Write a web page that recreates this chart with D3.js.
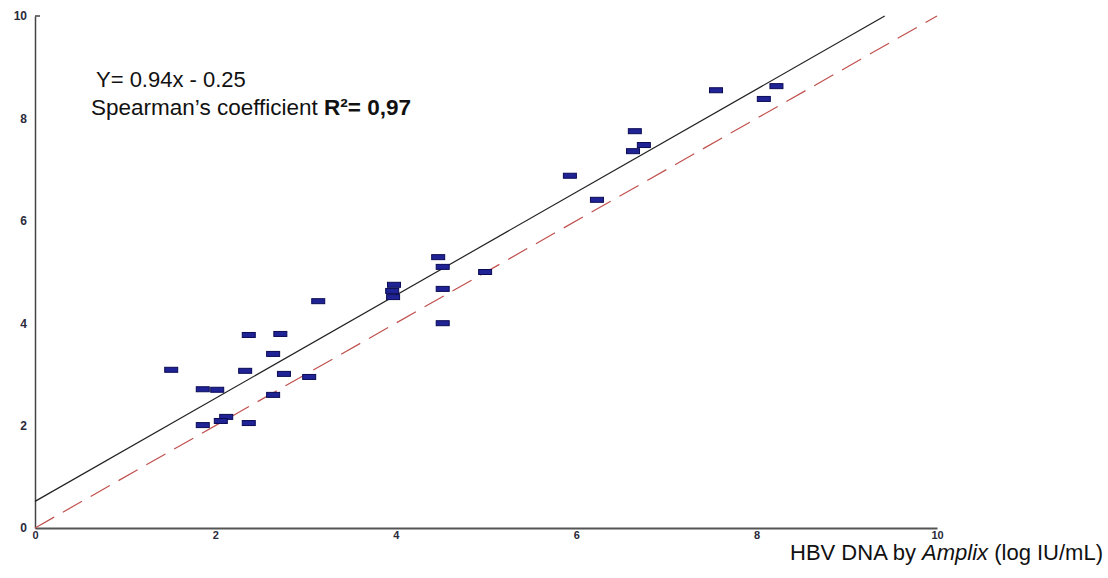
<!DOCTYPE html>
<html>
<head>
<meta charset="utf-8">
<script src="https://cdn.jsdelivr.net/npm/d3@7"></script>
<style>
  body { margin: 0; background: #fff; }
  svg { display: block; font-family: Arial, "Liberation Sans", sans-serif; }
</style>
</head>
<body>
<div id="chart"></div>
<script>
// data (x = Amplix, y = comparator, log IU/mL)
var xValues = [1.51, 2.37, 2.72, 2.64, 2.33, 2.76, 3.04, 1.86, 2.02, 2.64,
               1.86, 2.12, 2.06, 2.37, 3.14, 3.98, 3.96, 3.97, 4.47, 4.52,
               4.52, 4.52, 4.99, 5.93, 6.23, 6.65, 6.63, 6.75, 7.55, 8.08, 8.22];
var yValues = [3.09, 3.77, 3.79, 3.40, 3.07, 3.01, 2.95, 2.71, 2.70, 2.60,
               2.01, 2.17, 2.09, 2.05, 4.43, 4.75, 4.63, 4.51, 5.29, 5.10,
               4.67, 4.00, 5.00, 6.88, 6.41, 7.75, 7.36, 7.48, 8.55, 8.38, 8.63];
var xTicks = [0, 2, 4, 6, 8, 10];
var yTicks = [0, 2, 4, 6, 8, 10];
// regression line as drawn and the identity line
var fitLine = [[0, 0.52], [9.42, 10]];
var identityLine = [[0, 0], [10, 10]];

var chart_width  = 1108;
var chart_height = 578;

var x = d3.scaleLinear().domain([0, 10]).range([35, 937]);
var y = d3.scaleLinear().domain([0, 10]).range([528, 16]);

var svg = d3.select("#chart")
    .append("svg")
    .attr("width", chart_width)
    .attr("height", chart_height);

// axes
var xAxis = svg.append("g")
    .attr("transform", "translate(0," + y(0) + ")")
    .call(d3.axisBottom(x).tickValues(xTicks).tickSize(0).tickPadding(3));
xAxis.select(".domain").attr("stroke", "#555").attr("stroke-width", 2);
xAxis.selectAll("text")
    .attr("font-size", 11).attr("font-weight", "bold").attr("fill", "#2a2a3a");

var yAxis = svg.append("g")
    .attr("transform", "translate(" + x(0) + ",0)")
    .call(d3.axisLeft(y).tickValues(yTicks).tickSize(0).tickPadding(8));
yAxis.select(".domain").attr("stroke", "#444").attr("stroke-width", 1.5);
yAxis.selectAll("text")
    .attr("font-size", 12).attr("font-weight", "bold").attr("fill", "#2a2a3a");

// small bracket at top of y axis
svg.append("line")
    .attr("x1", x(0)).attr("x2", x(0) + 5)
    .attr("y1", y(10)).attr("y2", y(10))
    .attr("stroke", "#444").attr("stroke-width", 1.5);

var line = d3.line()
    .x(function(d) { return x(d[0]); })
    .y(function(d) { return y(d[1]); });

svg.append("path")
    .datum(identityLine)
    .attr("d", line)
    .attr("fill", "none")
    .attr("stroke", "#c0504d")
    .attr("stroke-width", 1.2)
    .attr("stroke-dasharray", "22,10");

svg.append("path")
    .datum(fitLine)
    .attr("d", line)
    .attr("fill", "none")
    .attr("stroke", "#222")
    .attr("stroke-width", 1.2);

// points as small bars
var points = d3.zip(xValues, yValues);
svg.selectAll("rect.pt")
    .data(points)
    .enter()
    .append("rect")
    .attr("class", "pt")
    .attr("x", function(d) { return x(d[0]) - 6.5; })
    .attr("y", function(d) { return y(d[1]) - 2.5; })
    .attr("width", 13)
    .attr("height", 5)
    .attr("fill", "#1f2396")
    .attr("stroke", "#0b0b55")
    .attr("stroke-width", 1);

// annotation
svg.append("text")
    .attr("x", 96).attr("y", 87)
    .attr("font-size", 22).attr("fill", "#111")
    .text("Y= 0.94x - 0.25");

var t2 = svg.append("text")
    .attr("x", 91).attr("y", 115)
    .attr("font-size", 22.5).attr("fill", "#111");
t2.append("tspan").text("Spearman\u2019s coefficient ");
t2.append("tspan").attr("font-weight", "bold").text("R\u00b2= 0,97");

// x axis title
var t3 = svg.append("text")
    .attr("x", 1103).attr("y", 560)
    .attr("text-anchor", "end")
    .attr("font-size", 22).attr("fill", "#111");
t3.append("tspan").text("HBV DNA by ");
t3.append("tspan").attr("font-style", "italic").text("Amplix");
t3.append("tspan").text(" (log IU/mL)");
</script>
</body>
</html>
